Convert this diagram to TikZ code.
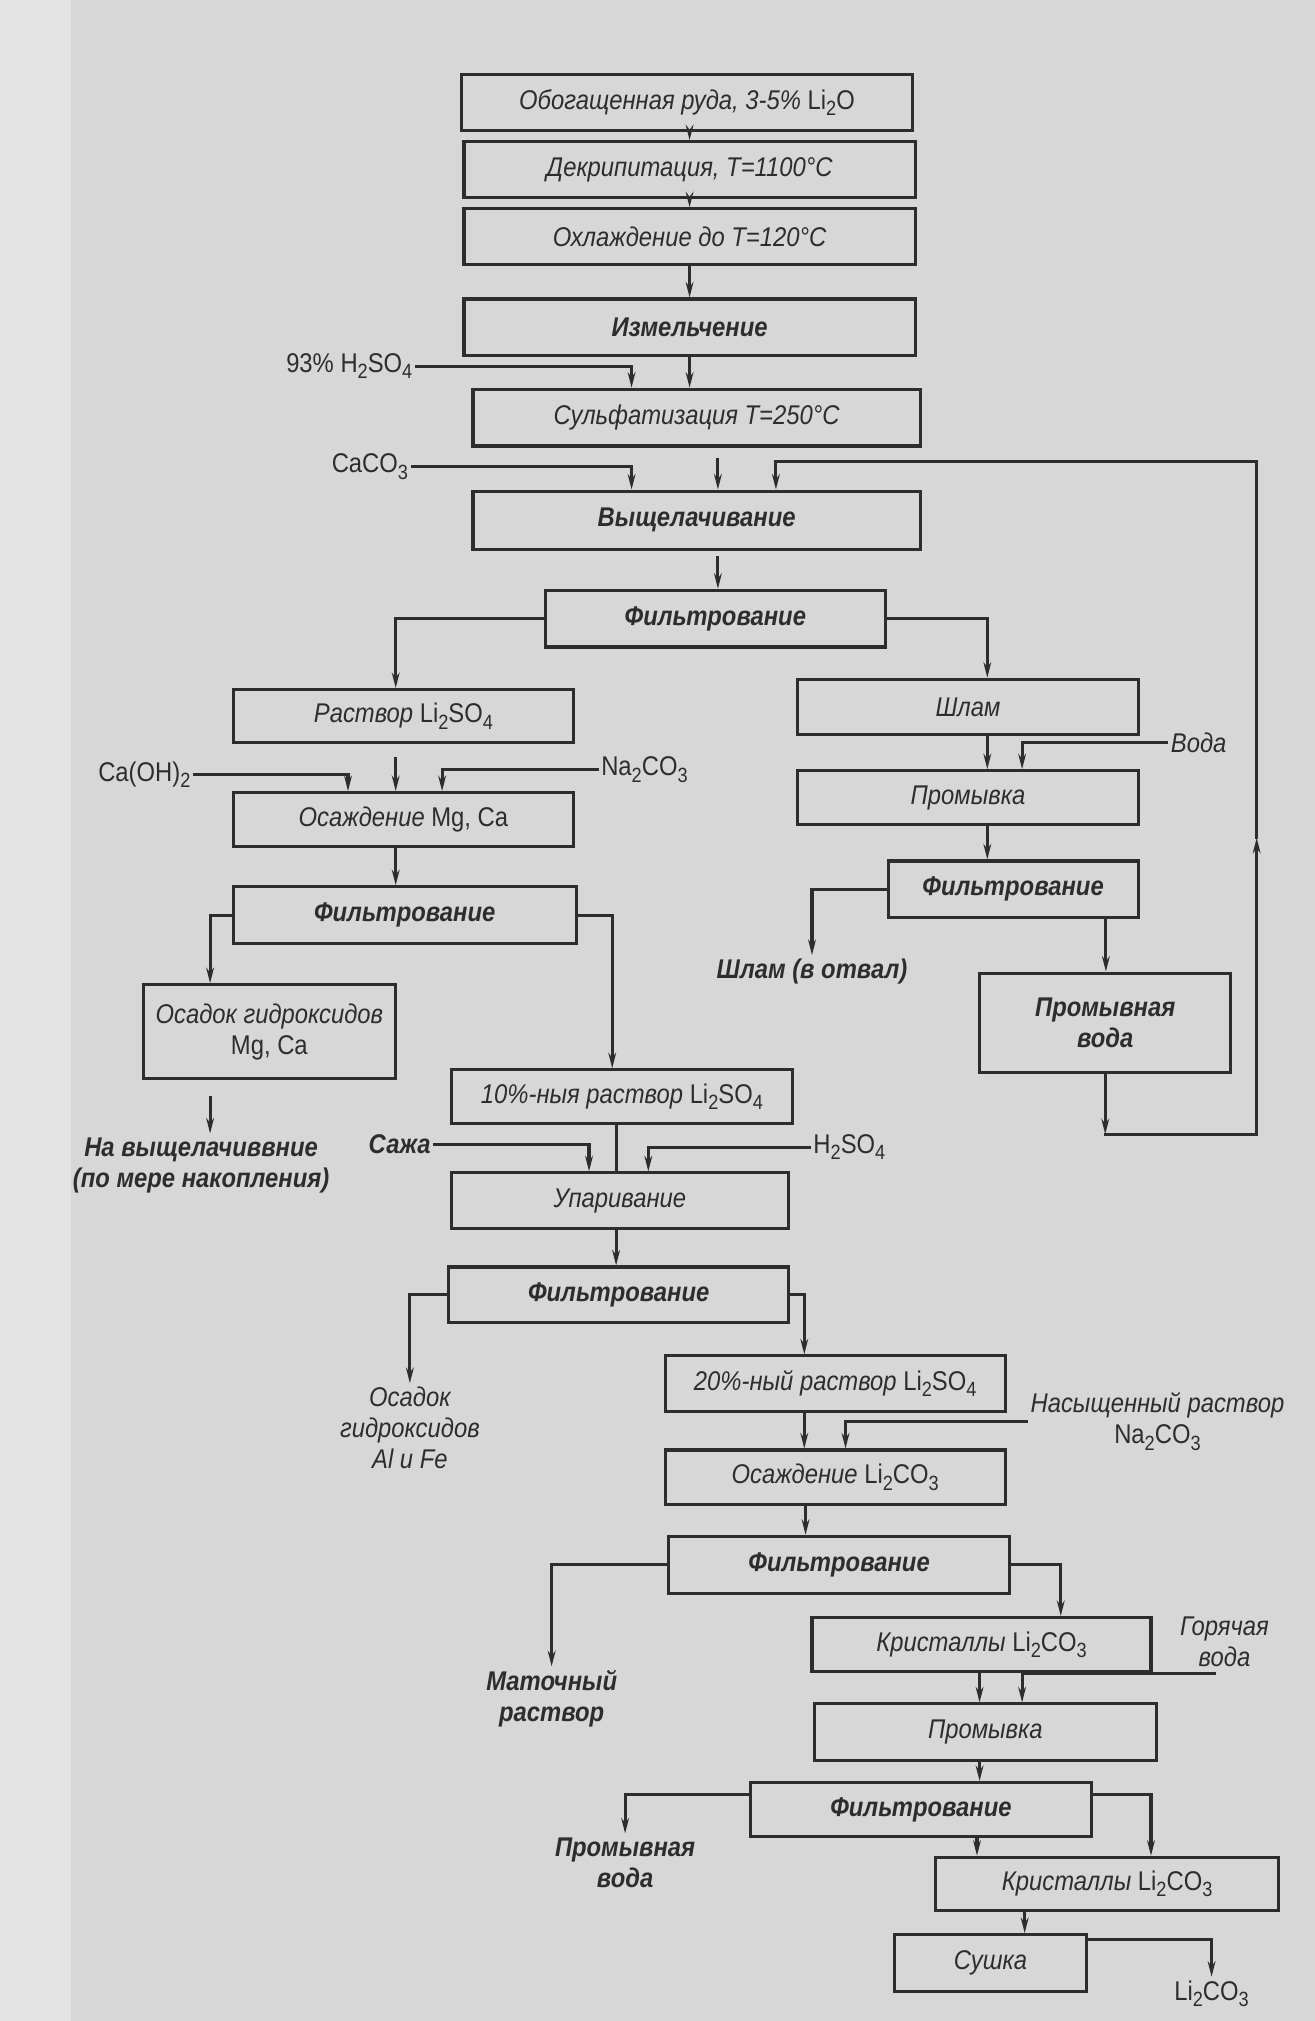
\documentclass[tikz,border=0pt]{standalone}
\usepackage{fontspec}
\setmainfont{Liberation Sans}[FakeStretch=0.88]
\usetikzlibrary{arrows.meta}
\definecolor{ink}{RGB}{45,45,45}
\definecolor{paper}{RGB}{215,215,215}
\definecolor{paperlight}{RGB}{228,228,228}
\newcommand{\chsub}[1]{\raisebox{-0.45ex}{\fontsize{16}{16}\selectfont #1}}
\tikzstyle{box} = [rectangle, 
draw=ink, line width=2.4pt,
minimum width=264pt, 
minimum height=43pt,
align=center, text=ink, inner sep=2pt,
font=\fontsize{21}{24}\selectfont\itshape]
\tikzstyle{filtbox} = [box, font=\fontsize{21}{24}\selectfont\itshape\bfseries]
\tikzstyle{lbl} = [align=center, text=ink, inner sep=3pt, font=\fontsize{21}{24}\selectfont]
\tikzstyle{note} = [lbl, font=\fontsize{21}{24}\selectfont\itshape]
\tikzstyle{bnote} = [lbl, font=\fontsize{21}{24}\selectfont\itshape\bfseries]
\tikzstyle{arrow} = [-{Stealth[length=12pt,width=6pt]}, line width=2.4pt, draw=ink, line cap=rect]
\tikzstyle{flow} = [line width=2.4pt, draw=ink, line cap=rect]

\begin{document}
\begin{tikzpicture}[x=1pt, y=-1pt]
		
		% Canvas
		\useasboundingbox (0,0) rectangle (1020,1568);
		\fill[paper] (0,0) rectangle (1020,1568);
		\fill[paperlight] (0,0) rectangle (55,1568);
		
		% Main line
		\node[box, minimum width=350pt] (ore) at (533,79.5) {Обогащенная руда, 3-5\% \textup{Li\chsub{2}O}};
		\node[box, minimum width=350pt] (decr) at (535,131.5) {Декрипитация, T=1100°C};
		\node[box, minimum width=350pt] (cool) at (535,183.5) {Охлаждение до T=120°C};
		\node[filtbox, minimum width=350pt, minimum height=44pt] (mill) at (535,254) {Измельчение};
		\node[box, minimum width=347pt, minimum height=44pt] (sulf) at (540.5,324) {Сульфатизация T=250°C};
		\node[filtbox, minimum width=347pt, minimum height=45pt] (leach) at (540.5,403.5) {Выщелачивание};
		\node[filtbox, minimum height=44pt] (filt1) at (555,480) {Фильтрование};
		
		\node[lbl] (acid1) at (271,284) {93\% H\chsub{2}SO\chsub{4}};
		\node[lbl] (caco) at (287,362) {CaCO\chsub{3}};
		
		% Left branch
		\node[box, minimum height=41pt] (sol1) at (313,555.5) {Раствор \textup{Li\chsub{2}SO\chsub{4}}};
		\node[box, minimum height=42pt] (precMg) at (313,636) {Осаждение \textup{Mg, Ca}};
		\node[filtbox, minimum width=266pt, minimum height=44pt] (filt3) at (314,710) {Фильтрование};
		\node[box, minimum width=196pt, minimum height=73pt] (hydr1) at (209,800.5) {Осадок гидроксидов\\\textup{Mg, Ca}};
		
		\node[lbl] (caoh) at (112,601) {Ca(OH)\chsub{2}};
		\node[lbl] (soda1) at (500,597) {Na\chsub{2}CO\chsub{3}};
		\node[bnote] (toleach) at (156,904) {На выщелачиввние\\(по мере накопления)};
		
		% Right branch
		\node[box] (slime) at (751,548.5) {Шлам};
		\node[box, minimum height=42pt] (wash1) at (751,619) {Промывка};
		\node[filtbox, minimum width=194pt, minimum height=44pt] (filt2) at (786,690) {Фильтрование};
		\node[filtbox, minimum width=195pt, minimum height=77pt] (washw) at (857.5,793.5) {Промывная\\вода};
		
		\node[note] (water1) at (930,576) {Вода};
		\node[bnote] (slimeout) at (630,754) {Шлам (в отвал)};
		
		% Evaporation
		\node[box, minimum width=265pt, minimum height=42pt] (sol10) at (482.5,851) {10\%-ныя раствор \textup{Li\chsub{2}SO\chsub{4}}};
		\node[box, minimum width=262pt] (evap) at (481,931.5) {Упаривание};
		\node[filtbox] (filt4) at (480,1004.5) {Фильтрование};
		
		\node[bnote] (soot) at (310,888) {Сажа};
		\node[lbl] (acid2) at (659,890) {H\chsub{2}SO\chsub{4}};
		\node[note] (hydr2) at (318,1108) {Осадок\\гидроксидов\\Al и Fe};
		
		% Carbonate
		\node[box] (sol20) at (648,1073.5) {20\%-ный раствор \textup{Li\chsub{2}SO\chsub{4}}};
		\node[box, minimum height=42pt] (precLi) at (648,1146) {Осаждение \textup{Li\chsub{2}CO\chsub{3}}};
		\node[filtbox, minimum height=44pt] (filt5) at (651,1214) {Фильтрование};
		\node[box, minimum width=263pt, minimum height=42pt] (cryst1) at (761.5,1276) {Кристаллы \textup{Li\chsub{2}CO\chsub{3}}};
		\node[box, minimum width=265pt, minimum height=44pt] (wash2) at (764.5,1344) {Промывка};
		\node[filtbox, minimum width=265pt, minimum height=42pt] (filt6) at (714.5,1404) {Фильтрование};
		\node[box, minimum width=266pt, minimum height=41pt] (cryst2) at (859,1461.5) {Кристаллы \textup{Li\chsub{2}CO\chsub{3}}};
		\node[box, minimum width=149pt, minimum height=44pt] (dry) at (768.5,1523) {Сушка};
		
		\node[note] (satsoda) at (898,1103) {Насыщенный раствор\\\textup{Na\chsub{2}CO\chsub{3}}};
		\node[bnote] (mother) at (428,1318) {Маточный\\раствор};
		\node[note] (hotw) at (950,1274) {Горячая\\вода};
		\node[bnote] (washout) at (485,1445) {Промывная\\вода};
		\node[lbl] (product) at (940,1547) {Li\chsub{2}CO\chsub{3}};
		
		% Edges
		\draw[arrow] ([xshift=2pt]ore.south) -- ([xshift=2pt]ore.south |- decr.north);
		\draw[arrow] (decr.south) -- (decr.south |- cool.north);
		\draw[arrow] (cool.south) -- (cool.south |- mill.north);
		\draw[arrow] (mill.south) -- (mill.south |- sulf.north);
		\draw[arrow] (acid1.east) -| ([xshift=-50.5pt]sulf.north);
		\draw[arrow, shorten <=9pt] ([xshift=16.5pt]sulf.south) -- ([xshift=16.5pt]leach.north);
		\draw[arrow] (caco.east) -| ([xshift=-50.5pt]leach.north);
		\draw[arrow, shorten <=5pt] ([xshift=16.5pt]leach.south) -- ([xshift=16.5pt]leach.south |- filt1.north);
		\draw[arrow] (filt1.west) -| ([xshift=-6pt]sol1.north);
		\draw[arrow] (filt1.east) -| ([xshift=15pt]slime.north);
		
		\draw[arrow] (caoh.east) -| ([xshift=-43pt]precMg.north);
		\draw[arrow, shorten <=11pt] ([xshift=-6pt]sol1.south) -- ([xshift=-6pt]precMg.north);
		\draw[arrow] (soda1.west) -| ([xshift=30pt]precMg.north);
		\draw[arrow] ([xshift=-6pt]precMg.south) -- ([xshift=-6pt]precMg.south |- filt3.north);
		\draw[arrow] (filt3.west) -| ([xshift=-46pt]hydr1.north);
		\draw[arrow] (filt3.east) -| ([xshift=-7.5pt]sol10.north);
		\draw[arrow, shorten <=13pt] ([xshift=-46pt]hydr1.south) -- ([xshift=-46pt]hydr1.south |- toleach.north);
		
		\draw[arrow] ([xshift=15pt]slime.south) -- ([xshift=15pt]wash1.north);
		\draw[arrow] (water1.west) -| ([xshift=42pt]wash1.north);
		\draw[arrow] ([xshift=15pt]wash1.south) -- ([xshift=15pt]wash1.south |- filt2.north);
		\draw[arrow] (filt2.west) -| (slimeout.north);
		\draw[arrow] ([xshift=72pt]filt2.south) -- ([xshift=72pt]filt2.south |- washw.north);
		
		% Wash water back to leaching
		\coordinate (rb) at (975,880);
		\coordinate (rm) at (975,650);
		\coordinate (rt) at (975,358);
		\draw[arrow] (washw.south) -- (washw.south |- rb);
		\draw[arrow] (washw.south |- rb) -- (rb) -- (rm);
		\draw[arrow] (rm) -- (rt) -| ([xshift=61.5pt]leach.north);
		
		\draw[flow] ([xshift=-4.5pt]sol10.south) -- ([xshift=-4.5pt]sol10.south |- evap.north);
		\draw[arrow] (soot.east) -| ([xshift=-24pt]evap.north);
		\draw[arrow] (acid2.west) -| ([xshift=22pt]evap.north);
		\draw[arrow] ([xshift=-3pt]evap.south) -- ([xshift=-3pt]evap.south |- filt4.north);
		\draw[arrow] (filt4.west) -| (hydr2.north);
		\draw[arrow] (filt4.east) -| ([xshift=-24pt]sol20.north);
		
		\draw[arrow] ([xshift=-24pt]sol20.south) -- ([xshift=-24pt]sol20.south |- precLi.north);
		\draw[arrow] (satsoda.west) -| ([xshift=8pt]precLi.north);
		\draw[arrow] ([xshift=-23pt]precLi.south) -- ([xshift=-23pt]precLi.south |- filt5.north);
		\draw[arrow] (filt5.west) -| (mother.north);
		\draw[arrow] (filt5.east) -| ([xshift=61.5pt]cryst1.north);
		\draw[arrow] ([xshift=-8pt, yshift=-2pt]hotw.south) -| ([xshift=28.5pt]wash2.north);
		\draw[arrow] ([xshift=-1.5pt]cryst1.south) -- ([xshift=-1.5pt]cryst1.south |- wash2.north);
		\draw[arrow] ([xshift=-4.5pt]wash2.south) -- ([xshift=-4.5pt]wash2.south |- filt6.north);
		\draw[arrow] ([yshift=12pt]filt6.west) -| (washout.north);
		\draw[arrow] ([yshift=12pt]filt6.east) -| ([xshift=34pt]cryst2.north);
		\draw[arrow] ([xshift=43.5pt]filt6.south) -- ([xshift=43.5pt]filt6.south |- cryst2.north);
		\draw[arrow] ([xshift=-64pt]cryst2.south) -- ([xshift=-64pt]cryst2.south |- dry.north);
		\draw[arrow] ([yshift=18pt]dry.east) -| (product.north);
		
	\end{tikzpicture}
\end{document}
